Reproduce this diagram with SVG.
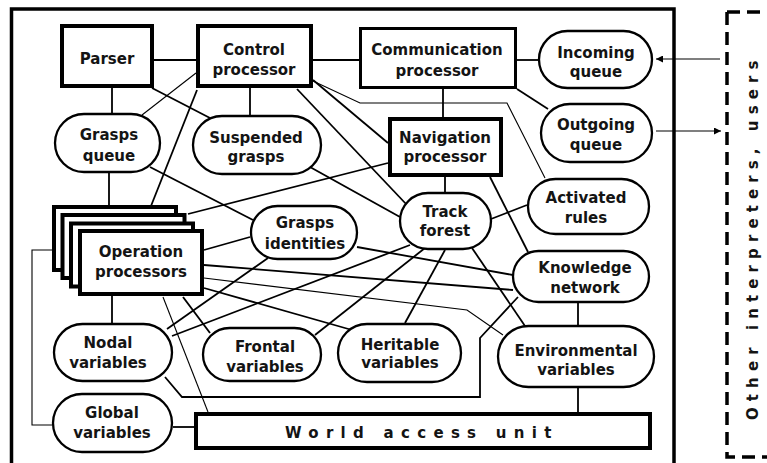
<svg xmlns="http://www.w3.org/2000/svg" width="767" height="463" viewBox="0 0 767 463">
<defs>
<style>
.box{fill:#fff;stroke:#000;stroke-width:4}
.st{fill:#fff;stroke:#000;stroke-width:2.3}
.c{fill:none;stroke:#000;stroke-width:1.8}
.tn{fill:none;stroke:#000;stroke-width:1.1}
.lb{font-family:"DejaVu Sans","Liberation Sans",sans-serif;font-weight:bold;font-size:15px;fill:#141414;text-anchor:middle}
.sp{font-family:"DejaVu Sans","Liberation Sans",sans-serif;font-weight:bold;font-size:15px;fill:#141414}
</style>
<marker id="ah" viewBox="0 0 10 10" refX="10" refY="5" markerWidth="7" markerHeight="7" markerUnits="userSpaceOnUse" orient="auto">
<path d="M0,0 L10,5 L0,10 Z" fill="#000"/>
</marker>
</defs>
<rect width="767" height="463" fill="#fff"/>
<rect id="frame" x="11.5" y="9" width="662.5" height="470" fill="none" stroke="#000" stroke-width="3.5"/>
<g id="outside">
<path d="M727,12 H767" fill="none" stroke="#000" stroke-width="3.5" stroke-dasharray="13,7"/>
<path d="M727,12 V457 H767" fill="none" stroke="#000" stroke-width="3.5" stroke-dasharray="13,7"/>
<text class="sp" transform="translate(758,420) rotate(-90)" letter-spacing="6.1">Other interpreters, users</text>
</g>
<g id="connectors">
<line class="c" x1="154" y1="60" x2="196" y2="60"/>
<line class="c" x1="112" y1="88" x2="112" y2="113"/>
<line class="c" x1="152" y1="88" x2="210" y2="118"/>
<line class="tn" x1="196" y1="73" x2="142" y2="115"/>
<line class="c" x1="197" y1="90" x2="151" y2="206"/>
<line class="c" x1="250" y1="88" x2="250" y2="115"/>
<line class="c" x1="313" y1="60" x2="359" y2="60"/>
<line class="c" x1="313" y1="80" x2="388" y2="143"/>
<line class="c" x1="297" y1="89" x2="407" y2="205"/>
<polyline class="tn" points="313,81 360,103 507,103 545,178"/>
<line class="c" x1="443" y1="89" x2="443" y2="117"/>
<line class="c" x1="517" y1="60" x2="538" y2="60"/>
<line class="c" x1="517" y1="89" x2="548" y2="109"/>
<line class="tn" x1="720" y1="59" x2="656" y2="59" stroke-width="1.5" marker-end="url(#ah)"/>
<line class="tn" x1="656" y1="131" x2="721" y2="131" stroke-width="1.5" marker-end="url(#ah)"/>
<line class="c" x1="310" y1="167" x2="400" y2="217"/>
<line class="c" x1="388" y1="163" x2="188" y2="214"/>
<line class="c" x1="445" y1="177" x2="445" y2="192"/>
<line class="c" x1="490" y1="177" x2="528" y2="252"/>
<line class="c" x1="491" y1="219" x2="527" y2="205"/>
<line class="c" x1="109" y1="173" x2="109" y2="205"/>
<line class="c" x1="150" y1="167" x2="253" y2="220"/>
<line class="c" x1="204" y1="250" x2="250" y2="237"/>
<line class="c" x1="357" y1="247" x2="513" y2="275"/>
<line class="c" x1="204" y1="265" x2="513" y2="290"/>
<polyline class="tn" points="204,278 467,310 503,335"/>
<line class="c" x1="204" y1="288" x2="352" y2="330"/>
<line class="c" x1="268" y1="258" x2="167" y2="329"/>
<line class="c" x1="410" y1="245" x2="172" y2="336"/>
<line class="c" x1="425" y1="248" x2="315" y2="335"/>
<line class="c" x1="445" y1="250" x2="405" y2="323"/>
<line class="c" x1="472" y1="248" x2="525" y2="326"/>
<polyline class="c" points="518,297 480,338 480,397 182,397 165,377"/>
<line class="c" x1="578" y1="303" x2="578" y2="325"/>
<line class="c" x1="578" y1="388" x2="578" y2="412"/>
<line class="c" x1="173" y1="427" x2="194" y2="427"/>
<line class="c" x1="112" y1="296" x2="112" y2="323"/>
<line class="c" x1="183" y1="297" x2="210" y2="333"/>
<line class="tn" x1="163" y1="297" x2="208" y2="412"/>
<polyline class="tn" points="52,250 32,250 32,425 52,425"/>
</g>
<g id="parser"><rect class="box" x="62" y="26" width="90" height="60"/><text class="lb" x="107" y="64">Parser</text></g>
<g id="control"><rect class="box" x="198" y="26" width="113" height="60"/><text class="lb" x="254" y="55">Control</text><text class="lb" x="254" y="75">processor</text></g>
<g id="communication"><rect class="box" style="stroke-width:3" x="360.5" y="28.5" width="155" height="59"/><text class="lb" x="437" y="55">Communication</text><text class="lb" x="437" y="76">processor</text></g>
<g id="incoming"><rect class="st" x="539" y="31" width="113" height="57" rx="28.5"/><text class="lb" x="596" y="58">Incoming</text><text class="lb" x="596" y="77">queue</text></g>
<g id="outgoing"><rect class="st" x="541" y="104" width="111" height="58" rx="29"/><text class="lb" x="596" y="130">Outgoing</text><text class="lb" x="596" y="150">queue</text></g>
<g id="navigation"><rect class="box" x="390" y="119" width="111" height="56"/><text class="lb" x="445" y="143">Navigation</text><text class="lb" x="445" y="162">processor</text></g>
<g id="grasps-queue"><rect class="st" x="55" y="114" width="105" height="58" rx="29"/><text class="lb" x="109" y="140">Grasps</text><text class="lb" x="109" y="161">queue</text></g>
<g id="suspended"><rect class="st" x="193" y="116" width="128" height="58" rx="29"/><text class="lb" x="256" y="143">Suspended</text><text class="lb" x="256" y="162">grasps</text></g>
<g id="track-forest"><rect class="st" x="400" y="193" width="91" height="56" rx="28"/><text class="lb" x="445" y="217">Track</text><text class="lb" x="445" y="236">forest</text></g>
<g id="activated"><rect class="st" x="528" y="179" width="121" height="55" rx="27.5"/><text class="lb" x="586" y="203">Activated</text><text class="lb" x="586" y="223">rules</text></g>
<g id="knowledge"><rect class="st" x="513" y="251" width="136" height="51" rx="25.5"/><text class="lb" x="585" y="273">Knowledge</text><text class="lb" x="585" y="293">network</text></g>
<g id="environmental"><rect class="st" x="498" y="326" width="156" height="61" rx="30.5"/><text class="lb" x="576" y="356">Environmental</text><text class="lb" x="576" y="375">variables</text></g>
<g id="grasps-identities"><rect class="st" x="251" y="206" width="106" height="53" rx="26.5"/><text class="lb" x="305" y="228">Grasps</text><text class="lb" x="305" y="249">identities</text></g>
<g id="operation">
<rect class="box" x="54" y="207" width="122" height="63"/>
<rect class="box" x="62.5" y="215" width="122" height="63"/>
<rect class="box" x="71" y="223.5" width="122" height="63"/>
<rect class="box" x="80" y="231" width="122" height="63"/>
<text class="lb" x="141" y="257">Operation</text><text class="lb" x="141" y="277">processors</text>
</g>
<g id="nodal"><rect class="st" x="54" y="324" width="118" height="57" rx="28.5"/><text class="lb" x="108" y="348">Nodal</text><text class="lb" x="108" y="368">variables</text></g>
<g id="frontal"><rect class="st" x="203" y="328" width="118" height="53" rx="26.5"/><text class="lb" x="265" y="352">Frontal</text><text class="lb" x="265" y="372">variables</text></g>
<g id="heritable"><rect class="st" x="338" y="324" width="123" height="58" rx="29"/><text class="lb" x="400" y="350">Heritable</text><text class="lb" x="400" y="368">variables</text></g>
<g id="global"><rect class="st" x="53" y="394" width="119" height="58" rx="29"/><text class="lb" x="112" y="418">Global</text><text class="lb" x="112" y="438">variables</text></g>
<g id="world"><rect class="box" x="196" y="414" width="454" height="34"/><text class="sp" x="285" y="438" letter-spacing="7.3">World access unit</text></g>
</svg>
